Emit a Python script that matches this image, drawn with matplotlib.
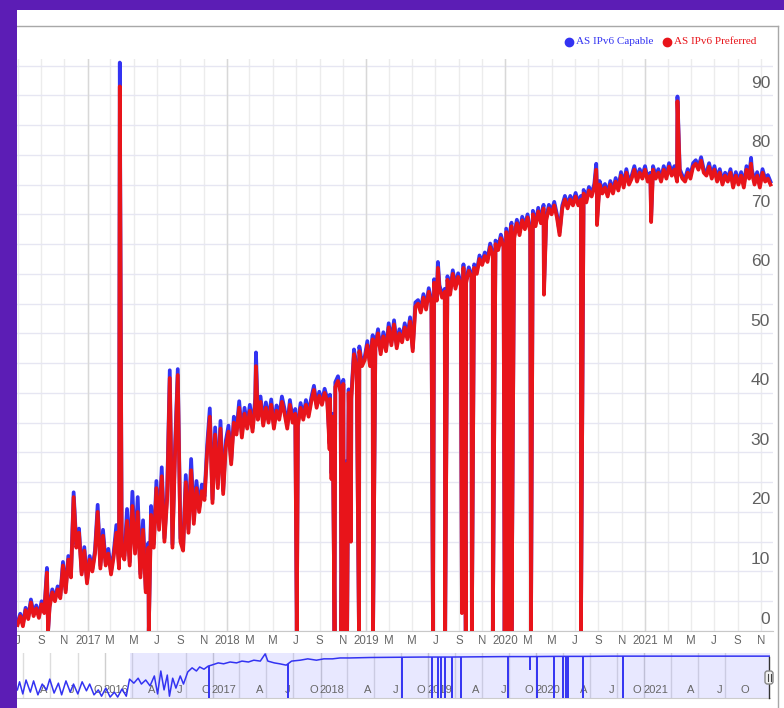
import calendar
import matplotlib
matplotlib.use('Agg')
import matplotlib.pyplot as plt
import matplotlib.dates as mdates
import matplotlib.transforms as mtransforms
from matplotlib.patches import Rectangle, FancyBboxPatch
from matplotlib.lines import Line2D
import numpy as np
import pandas as pd

W, H = 784, 708
PURPLE = '#5c1db5'
BLUE = '#3333f2'
RED = '#e8141a'
FONT = 'Liberation Sans'

# weekly readings, first one on 2016-07-01
week_start = '2016-07-01'
pref_weekly = [
    1.0, 2.5, 0.8, 3.5, 2.0, 4.8, 2.5, 3.8, 2.2, 4.5,
    3.0, 9.8, 4.0, 6.5, 5.0, 7.0, 5.5, 11.0, 6.5, 12.0,
    9.0, 22.5, 14.0, 16.5, 9.5, 13.5, 8.0, 12.0, 10.0, 13.0,
    20.0, 10.5, 16.0, 11.0, 13.0, 9.5, 12.5, 16.5, 10.5, 13.0,
    12.0, 18.5, 11.0, 21.0, 13.0, 20.0, 9.0, 17.0, 6.5, 14.0,
    19.5, 14.0, 24.0, 17.0, 26.0, 15.0, 22.0, 42.5, 14.0, 30.0,
    43.0, 15.0, 13.5, 25.0, 16.5, 27.0, 18.0, 24.0, 20.0, 23.5,
    22.0, 30.0, 36.0, 21.5, 33.0, 24.0, 34.0, 23.0, 31.0, 33.5,
    28.0, 35.0, 33.0, 37.5, 32.5, 36.5, 34.0, 37.0, 33.5, 38.0,
    35.5, 38.5, 34.5, 37.5, 35.0, 38.0, 34.0, 37.0, 35.5, 38.5,
    36.5, 34.0, 38.0, 35.0, 36.5, 34.5, 37.5, 35.5, 38.0, 36.0,
    38.5, 40.5, 37.5, 39.5, 38.0, 40.0, 38.5, 39.0, 36.0, 41.0,
    42.0, 40.0, 41.5, 28.0, 40.0, 39.0, 46.5, 44.0, 47.0, 44.5,
    45.5, 48.0, 44.5, 49.0, 47.5, 50.0, 46.5, 49.5, 47.0, 51.0,
    48.0, 51.5, 47.5, 50.0, 48.5, 51.0, 49.0, 52.0, 47.0, 54.5,
    55.0, 53.5, 56.0, 54.0, 57.0, 55.0, 58.5, 55.5, 57.5, 56.0,
    57.0, 59.0, 56.5, 60.0, 57.5, 59.5, 58.0, 61.0, 58.5, 60.5,
    59.5, 61.0, 60.0, 62.5, 61.5, 63.0, 62.0, 64.5, 63.0, 65.0,
    64.0, 66.0, 64.5, 67.0, 65.5, 68.0, 66.0, 68.5, 66.5, 69.0,
    67.5, 69.5, 67.0, 70.0, 68.0, 70.5, 68.5, 71.0, 69.0, 71.0,
    70.0, 71.5, 69.5, 66.5, 71.0, 72.5, 71.0, 72.5, 71.5, 73.0,
    71.5, 72.5, 73.5, 72.0, 74.0, 73.0, 74.5, 73.5, 75.0, 73.5,
    74.5, 73.0, 75.0, 73.5, 75.5, 74.0, 76.5, 74.5, 77.0, 75.0,
    76.0, 77.5, 75.5, 77.0, 76.0, 77.5, 75.5, 76.5, 77.5, 76.0,
    77.0, 75.5, 77.5, 76.0, 78.0, 76.5, 77.5, 75.5, 77.0, 76.0,
    75.5, 77.0, 76.0, 78.0, 78.5, 77.5, 79.0, 77.0, 76.5, 78.0,
    76.0, 77.5, 75.5, 77.0, 75.0, 76.5, 75.5, 77.0, 74.5, 76.5,
    75.0, 76.5, 74.5, 77.5, 76.0, 77.0, 75.0, 76.5, 74.5, 77.0, 75.5, 76.0, 75.0,
]
cap_weekly = [
    1.4, 2.9, 1.2, 3.9, 2.4, 5.3, 2.9, 4.3, 2.6, 5.0,
    3.4, 10.6, 4.4, 7.0, 5.4, 7.5, 5.9, 11.6, 6.9, 12.6,
    9.4, 23.3, 14.5, 17.2, 9.9, 14.1, 8.4, 12.6, 10.4, 13.6,
    21.2, 11.0, 17.0, 11.5, 13.8, 10.0, 13.2, 17.8, 11.0, 13.8,
    12.6, 20.5, 11.6, 23.4, 13.7, 22.5, 9.6, 18.6, 7.0, 14.8,
    21.0, 14.6, 25.2, 17.6, 27.5, 15.6, 23.0, 43.8, 14.6, 31.2,
    44.0, 15.6, 14.1, 26.2, 17.1, 28.9, 18.6, 25.2, 20.6, 24.6,
    22.6, 31.2, 37.4, 22.1, 34.2, 24.6, 35.3, 23.6, 32.0, 34.5,
    28.6, 36.0, 33.6, 38.6, 33.1, 37.5, 34.6, 38.0, 34.1, 39.0,
    36.0, 39.4, 35.0, 38.4, 35.5, 38.9, 34.5, 37.9, 36.0, 39.4,
    37.3, 34.5, 38.8, 35.5, 37.3, 35.0, 38.3, 36.0, 38.8, 36.5,
    39.2, 41.2, 38.0, 40.2, 38.5, 40.7, 39.0, 39.7, 36.5, 41.8,
    42.8, 40.5, 42.2, 28.5, 40.6, 39.5, 47.3, 44.5, 47.8, 45.0,
    46.0, 48.7, 45.0, 49.7, 48.0, 50.7, 47.0, 50.2, 47.5, 51.7,
    48.5, 52.2, 48.0, 50.7, 49.0, 51.7, 49.5, 52.7, 47.5, 55.2,
    55.6, 54.0, 56.6, 54.5, 57.6, 55.5, 59.1, 56.0, 58.1, 56.5,
    57.5, 59.6, 57.0, 60.6, 58.0, 60.1, 58.5, 61.6, 59.0, 61.1,
    60.0, 61.6, 60.5, 63.1, 62.0, 63.6, 62.5, 65.1, 63.5, 65.6,
    64.5, 66.6, 65.0, 67.6, 66.0, 68.6, 66.5, 69.1, 67.0, 69.6,
    68.0, 70.0, 67.5, 70.6, 68.5, 71.1, 69.0, 71.6, 69.5, 71.6,
    70.5, 72.1, 70.0, 67.0, 71.5, 73.1, 71.5, 73.1, 72.0, 73.6,
    72.0, 73.1, 74.1, 72.5, 74.6, 73.5, 75.1, 74.0, 75.6, 74.0,
    75.1, 73.5, 75.6, 74.0, 76.1, 74.5, 77.1, 75.0, 77.6, 75.5,
    76.5, 78.1, 76.0, 77.6, 76.5, 78.1, 76.0, 77.0, 78.1, 76.5,
    77.6, 76.0, 78.1, 76.5, 78.6, 77.0, 78.1, 76.0, 77.6, 76.5,
    76.0, 77.6, 76.5, 78.6, 79.1, 78.0, 79.6, 77.5, 77.0, 78.6,
    76.5, 78.1, 76.0, 77.6, 75.5, 77.0, 76.0, 77.6, 75.0, 77.1,
    75.5, 77.1, 75.0, 78.1, 76.5, 77.6, 75.5, 77.1, 75.0, 77.6, 76.0, 76.6, 75.5,
]

# single-day spikes and outages
spike_dates = [
    '2016-09-19', '2017-03-26', '2017-06-10', '2018-03-18', '2018-07-03',
    '2018-09-27', '2018-10-02', '2018-10-10', '2018-10-28', '2018-11-04',
    '2018-11-12', '2018-11-22', '2018-12-13', '2019-01-19', '2019-06-25',
    '2019-07-08', '2019-07-27', '2019-09-09', '2019-09-19', '2019-10-05',
    '2019-11-29', '2019-12-30', '2020-01-09', '2020-01-17', '2020-03-08',
    '2020-04-11', '2020-07-17', '2020-08-26', '2020-08-28', '2021-01-17',
    '2021-03-27', '2021-10-06',
]
spike_cap = [
    0, 95.5, 0, 46.8, 0,
    31.5, 26.5, 0, 0, 0,
    0, 16.0, 0, 0, 0,
    62.0, 0, 3.5, 0, 0,
    0, 0, 0, 0, 0,
    57.5, 0, 78.5, 69.0, 69.5,
    89.8, 79.5,
]
spike_pref = [
    0, 91.5, 0, 44.5, 0,
    30.5, 25.5, 0, 0, 0,
    0, 15.0, 0, 0, 0,
    61.0, 0, 3.0, 0, 0,
    0, 0, 0, 0, 0,
    56.5, 0, 77.5, 68.2, 68.7,
    89.0, 78.5,
]

# navigator strip: its own time axis, values as % of strip height
nav_years = [
    2015.19, 2015.21, 2015.24, 2015.27, 2015.31, 2015.34, 2015.38, 2015.42, 2015.46, 2015.49,
    2015.53, 2015.57, 2015.60, 2015.64, 2015.68, 2015.71, 2015.75, 2015.79, 2015.83, 2015.86,
    2015.90, 2015.94, 2015.97,
    2016.01, 2016.05, 2016.09, 2016.12, 2016.16, 2016.20, 2016.23, 2016.27, 2016.31, 2016.34,
    2016.38, 2016.42, 2016.46, 2016.49, 2016.52, 2016.55, 2016.58, 2016.60, 2016.63, 2016.66,
    2016.70, 2016.73, 2016.77, 2016.81, 2016.85, 2016.88, 2016.92, 2016.96, 2016.99,
    2017.05, 2017.10, 2017.16, 2017.22, 2017.27, 2017.33, 2017.38, 2017.44, 2017.485, 2017.51,
    2017.57, 2017.62, 2017.68, 2017.73, 2017.81, 2017.88, 2017.96,
    2018.03, 2018.11, 2018.18, 2018.27, 2018.46, 2018.70, 2018.95,
    2019.20, 2019.45, 2019.70, 2019.95,
    2020.20, 2020.45, 2020.70, 2020.95,
    2021.20, 2021.45, 2021.70, 2021.95,
    2022.17,
]
nav_vals = [
    18, 36, 9, 40, 13, 38, 7, 31, 18, 42,
    11, 33, 7, 38, 13, 31, 9, 36, 16, 31,
    7, 18, 4,
    22, 2, 13, 2, 20, 4, 42, 33, 44, 31,
    40, 27, 49, 9, 60, 18, 51, 4, 44, 22,
    49, 31, 58, 67, 60, 69, 64, 71, 73,
    78, 76, 80, 78, 82, 80, 84, 82, 98, 82,
    78, 76, 73, 82, 84, 87, 84,
    87, 87, 89, 89, 90, 90.5, 91,
    91, 91.5, 92, 92,
    92.5, 92.5, 93, 93,
    93, 93, 93, 93,
    93,
]
nav_drop_years = [
    2016.966, 2017.698, 2018.755, 2019.033, 2019.088, 2019.116, 2019.153, 2019.218,
    2019.301, 2019.737, 2019.941, 2020.006, 2020.163, 2020.247, 2020.275, 2020.293,
    2020.432, 2020.803,
]
nav_drop_low = [0, 0, 0, 0, 0, 0, 0, 0, 0, 0, 62, 0, 0, 0, 0, 0, 0, 0]
nav_selected = (2016.23, 2022.2)

y_labels = list(range(0, 100, 10))


def year_to_date(y):
    base = pd.Timestamp(int(y), 1, 1)
    return base + pd.Timedelta(days=(y - int(y)) * 365.25)


def inch(x, y):
    # pixel position measured from the top-left corner -> inches
    return x / 100, (H - y) / 100


fig = plt.figure(figsize=(W / 100, H / 100), dpi=100, facecolor=PURPLE)
tin = fig.dpi_scale_trans

# white chart card and its grey frame
fig.add_artist(Rectangle(inch(17, 708), (W - 17) / 100, (708 - 10) / 100,
                         transform=tin, facecolor='white', edgecolor='none', zorder=-10))
fig.add_artist(Line2D([0.17, 7.78], [inch(0, 26)[1]] * 2, transform=tin, color='#a8a8a8', lw=1))
fig.add_artist(Line2D([7.78, 7.78], [0, inch(0, 26)[1]], transform=tin, color='#a8a8a8', lw=1))

# ---- main panel ----
ax = fig.add_axes([17 / W, 77 / H, 756 / W, 572 / H])
weekly = pd.DataFrame({'date': pd.date_range(week_start, periods=len(pref_weekly), freq='7D'),
                       'cap': cap_weekly, 'pref': pref_weekly})
spikes = pd.DataFrame({'date': pd.to_datetime(spike_dates), 'cap': spike_cap, 'pref': spike_pref})
df = pd.concat([weekly, spikes]).sort_values('date', kind='stable')

ax.plot(df['date'], df['cap'], color=BLUE, lw=2.7, zorder=3)
ax.plot(df['date'], df['pref'], color=RED, lw=2.7, zorder=4)

ax.set_xlim(pd.Timestamp('2016-06-29 12:00'), pd.Timestamp('2021-12-02 12:00'))
ax.set_ylim(0, 96.1)

ticks = pd.date_range('2016-07-01', '2021-11-01', freq='2MS')
tick_labels = [str(t.year) if t.month == 1 else calendar.month_abbr[t.month][0] for t in ticks]
ax.set_xticks(ticks)
ax.set_xticklabels(tick_labels, fontsize=8.3, color='#666666', family=FONT)
ax.tick_params(axis='x', length=0, pad=3)
ax.set_yticks(np.arange(0, 96, 5))
ax.tick_params(axis='y', length=0, labelleft=False)
ax.grid(axis='y', color='#e6e6f2', lw=1)
ax.grid(axis='x', color='#ececec', lw=1)
for t in ticks:
    if t.month == 1:
        ax.axvline(t, color='#d8d8d8', lw=1, zorder=1.6)
for s in ['top', 'left', 'right']:
    ax.spines[s].set_visible(False)
ax.spines['bottom'].set_color('#c8c8c8')

ylab_trans = mtransforms.offset_copy(
    mtransforms.blended_transform_factory(ax.transAxes, ax.transData),
    fig=fig, x=-3, y=12, units='dots')
for v in y_labels:
    ax.text(1.0, v, str(v), transform=ylab_trans, ha='right', va='center',
            fontsize=12.5, color='#606060', family=FONT)

# ---- navigator ----
nav = fig.add_axes([17 / W, 10 / H, 753 / W, 45 / H])
nav.set_xlim(year_to_date(2015.1863), year_to_date(2022.165))
nav.set_ylim(0, 100)
nav.set_xticks([])
nav.set_yticks([])
for s in ['top', 'left', 'right']:
    nav.spines[s].set_visible(False)
nav.spines['bottom'].set_color('#cccccc')

nav_ticks = pd.date_range('2015-01-01', '2022-01-01', freq='QS')
lab_trans = mtransforms.offset_copy(
    mtransforms.blended_transform_factory(nav.transData, nav.transAxes),
    fig=fig, x=-3, y=0, units='dots')
for i, (t, nxt) in enumerate(zip(nav_ticks[:-1], nav_ticks[1:])):
    nav.axvline(t, color='#cfcfcf' if t.month == 1 else '#dddddd', lw=1, zorder=1)
    if i == 0:
        continue
    lab = str(t.year) if t.month == 1 else calendar.month_abbr[t.month][0]
    nav.text(mdates.date2num(nxt), 0.18, lab, transform=lab_trans, ha='right', va='center',
             fontsize=8, color='#666666', family=FONT)

nav.axvspan(year_to_date(nav_selected[0]), year_to_date(nav_selected[1]),
            color='#6666ff', alpha=0.15, lw=0, zorder=2)

nav_dates = [year_to_date(y) for y in nav_years]
nav.plot(nav_dates, nav_vals, color=BLUE, lw=1.1, zorder=3)
drop_dates = [year_to_date(y) for y in nav_drop_years]
tops = np.interp(mdates.date2num(drop_dates), mdates.date2num(nav_dates), nav_vals)
nav.vlines(drop_dates, nav_drop_low, tops, color=BLUE, lw=1.4, zorder=3)

# right handle of the navigator
fig.add_artist(Line2D([7.69, 7.69], [inch(0, 698)[1], inch(0, 657)[1]], transform=tin,
                      color='#333333', lw=1, zorder=6))
fig.add_artist(FancyBboxPatch(inch(765, 684), 0.08, 0.13, boxstyle='round,pad=0,rounding_size=0.025',
                              transform=tin, facecolor='#f2f2f2', edgecolor='#888888', lw=1, zorder=7))
for hx in (7.675, 7.705):
    fig.add_artist(Line2D([hx, hx], [inch(0, 681)[1], inch(0, 674)[1]], transform=tin,
                          color='#444444', lw=0.8, zorder=8))

# legend
ly = inch(0, 42)[1]
fig.add_artist(Line2D([5.69], [ly], marker='o', ms=6, color=BLUE, transform=tin))
fig.text(5.76 / 7.84, ly / 7.08, 'AS IPv6 Capable', color=BLUE, family='Liberation Serif',
         fontsize=8, va='center', ha='left')
fig.add_artist(Line2D([6.67], [ly], marker='o', ms=6, color=RED, transform=tin))
fig.text(6.74 / 7.84, ly / 7.08, 'AS IPv6 Preferred', color=RED, family='Liberation Serif',
         fontsize=8, va='center', ha='left')

# purple edge on the left covers clipped labels
fig.add_artist(Rectangle((0, 0), 0.17, H / 100, transform=tin, facecolor=PURPLE,
                         edgecolor='none', zorder=10))

fig.savefig('out.png', dpi=100, facecolor=PURPLE)
